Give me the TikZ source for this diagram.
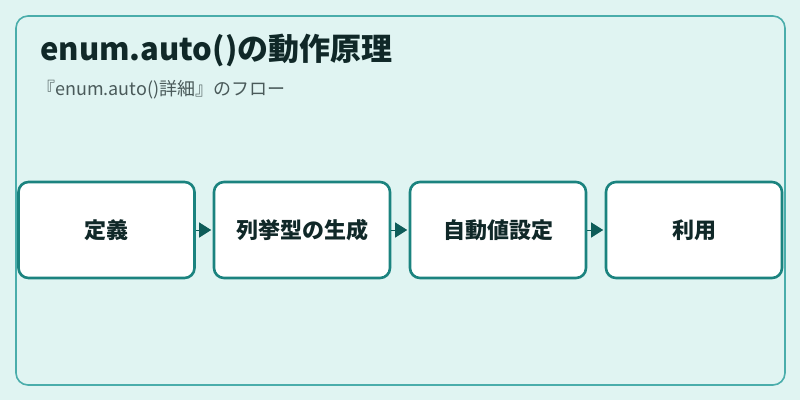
\documentclass[tikz,border=0pt]{standalone}
\usepackage{fontspec}
\setmainfont{Noto Sans CJK JP}
\usetikzlibrary{arrows.meta}
\definecolor{bg}{HTML}{E0F4F2}
\definecolor{frame}{HTML}{4AADAB}
\definecolor{boxline}{HTML}{1B837F}
\definecolor{arrowc}{HTML}{0E5C59}
\definecolor{titlec}{HTML}{102828}
\definecolor{subc}{HTML}{4A5A5A}
\tikzset{
  stepbox/.style={draw=boxline, line width=2.6pt, fill=white, rounded corners=10pt,
    minimum width=176pt, minimum height=96pt, inner sep=0pt,
    font=\fontsize{22pt}{25pt}\selectfont\bfseries, text=titlec},
  flow/.style={draw=arrowc, line width=1pt, -{Triangle[width=15pt,length=12pt]}, shorten >=1.5pt}
}
\begin{document}
\begin{tikzpicture}[x=1pt,y=-1pt]
\useasboundingbox (0,0) rectangle (800,400);
\fill[bg] (0,0) rectangle (800,400);
\draw[frame, line width=1.6pt, rounded corners=12pt] (16,16) rectangle (785,385);
\node[anchor=base west, font=\fontsize{31pt}{35pt}\selectfont\bfseries, text=titlec, inner sep=0pt] (title) at (40,60) {enum.auto()の動作原理};
\node[anchor=base west, font=\fontsize{18pt}{21pt}\selectfont, text=subc, inner sep=0pt] (sub) at (37,95) {『enum.auto()詳細』のフロー};
\node[stepbox] (a) at (106.5,230) {定義};
\node[stepbox] (b) at (302,230) {列挙型の生成};
\node[stepbox] (c) at (498,230) {自動値設定};
\node[stepbox] (d) at (694,230) {利用};
\draw[flow] (a) -- (b);
\draw[flow] (b) -- (c);
\draw[flow] (c) -- (d);
\end{tikzpicture}
\end{document}
